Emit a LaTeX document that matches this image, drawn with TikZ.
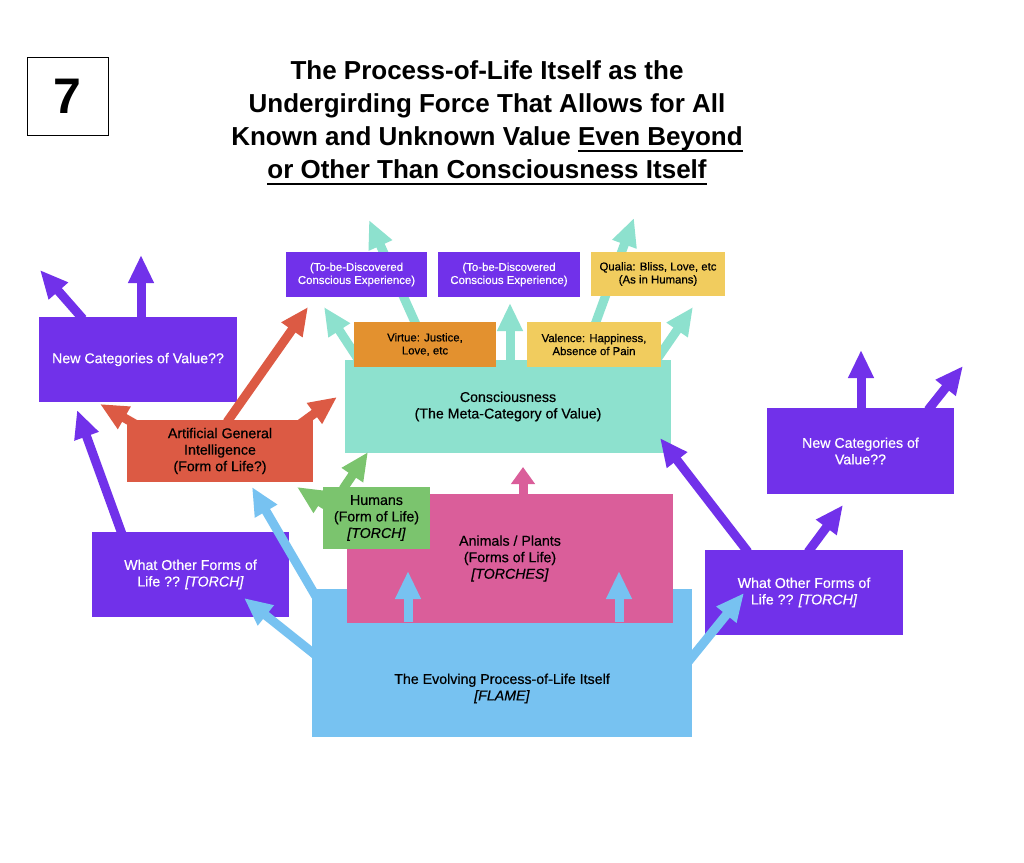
\documentclass[tikz,border=0pt]{standalone}
\usepackage{fontspec}
\setmainfont{Liberation Sans}
\newfontfamily\medf{Liberation Sans}[FakeBold=0.5]
\usetikzlibrary{arrows.meta}
\definecolor{cpurple}{HTML}{7131EA}
\definecolor{cteal}{HTML}{8DE1CE}
\definecolor{corange}{HTML}{E3912F}
\definecolor{cyellow}{HTML}{F1CC5E}
\definecolor{cred}{HTML}{DC5A44}
\definecolor{cgreen}{HTML}{7BC46E}
\definecolor{cpink}{HTML}{DA5E9A}
\definecolor{cblue}{HTML}{77C2F1}
\newcommand\bodyf{\medf\fontsize{14.2}{16.5}\selectfont}
\newcommand\smallf{\medf\fontsize{11.4}{13}\selectfont}
\newcommand\thickul[1]{\leavevmode\vtop{\hbox{\smash{#1}}\kern4.5pt\hrule height 1.6pt}}
\tikzset{
  box/.style={rectangle, inner sep=0pt, align=center, font=\bodyf, text=black},
  sbox/.style={box, font=\smallf},
  arr/.style={line width=9pt, -{Triangle[width=24pt,length=28pt]}},
  sarr/.style={line width=9pt, -{Triangle[width=23pt,length=17pt]}},
}
\begin{document}
\begin{tikzpicture}[x=1pt,y=-1pt]
\useasboundingbox[fill=white] (0,0) rectangle (1024,862);

% number and title
\node[draw=black, line width=0.8pt, minimum width=81pt, minimum height=78pt, inner sep=0pt,
      font=\fontsize{50}{50}\selectfont\bfseries] (num) at (67.5,96) {7};
\node[align=center, font=\fontsize{26}{33}\selectfont\bfseries] (title) at (487,123)
  {The Process-of-Life Itself as the\\
   Undergirding Force That Allows for All\\
   Known and Unknown Value \thickul{Even Beyond}\\
   \thickul{or Other Than Consciousness Itself}};

% lower-layer boxes
\node[box, fill=cblue, minimum width=380pt, minimum height=148pt] (evol) at (502,663) {};
\node[box] (evoltext) at (502,688.5) {The Evolving Process-of-Life Itself\\\textit{[FLAME]}};
\node[box, fill=cpink, minimum width=326pt, minimum height=129pt] (animals) at (510,558.5)
  {Animals / Plants\\(Forms of Life)\\\textit{[TORCHES]}};
\node[box, fill=cgreen, minimum width=107pt, minimum height=62pt] (humans) at (376.5,518)
  {Humans\\(Form of Life)\\\textit{[TORCH]}};
\node[box, fill=cteal, minimum width=326pt, minimum height=93pt] (cons) at (508,406.5)
  {Consciousness\\(The Meta-Category of Value)};
\node[box, fill=cred, minimum width=186pt, minimum height=62pt] (agi) at (220,451)
  {Artificial General\\Intelligence\\(Form of Life?)};
\node[box, fill=cpurple, text=white, minimum width=198pt, minimum height=85pt] (newcatL) at (138,359.5)
  {New Categories of Value??};
\node[box, fill=cpurple, text=white, minimum width=197pt, minimum height=85pt] (otherL) at (190.5,574.5)
  {What Other Forms of\\Life ?? \textit{[TORCH]}};
\node[box, fill=cpurple, text=white, minimum width=198pt, minimum height=85pt] (otherR) at (804,592.5)
  {What Other Forms of\\Life ?? \textit{[TORCH]}};
\node[box, fill=cpurple, text=white, minimum width=187pt, minimum height=86pt] (newcatR) at (860.5,451)
  {New Categories of\\Value??};

% arrow end points
\coordinate (t1s) at (360,362); \coordinate (t1e) at (324,307);
\coordinate (t2s) at (432,360); \coordinate (t2e) at (369,220);
\coordinate (t3s) at (510,362); \coordinate (t3e) at (510,303);
\coordinate (t4s) at (582,360); \coordinate (t4e) at (634,218);
\coordinate (t5s) at (655,362); \coordinate (t5e) at (693,307);
\coordinate (r1s) at (135,424); \coordinate (r1e) at (100,404);
\coordinate (r2s) at (227,422); \coordinate (r2e) at (308,307);
\coordinate (r3s) at (300,424); \coordinate (r3e) at (337,397);
\coordinate (p1s) at (141,319); \coordinate (p1e) at (141,255);
\coordinate (p2s) at (83,319);  \coordinate (p2e) at (40,270);
\coordinate (p3s) at (122,534); \coordinate (p3e) at (77,410);
\coordinate (p4s) at (748,552); \coordinate (p4e) at (660,438);
\coordinate (p5s) at (808,552); \coordinate (p5e) at (843,505);
\coordinate (p6s) at (861,410); \coordinate (p6e) at (861,350);
\coordinate (p7s) at (928,410); \coordinate (p7e) at (963,366);
\coordinate (g1s) at (343,489); \coordinate (g1e) at (368,452);
\coordinate (g2s) at (325,505); \coordinate (g2e) at (297,487);
\coordinate (k1s) at (523,496); \coordinate (k1e) at (523,467);
\coordinate (b1s) at (408,622); \coordinate (b1e) at (408,571);
\coordinate (b2s) at (619,622); \coordinate (b2e) at (619,571);
\coordinate (b3s) at (318,600); \coordinate (b3e) at (252,487);
\coordinate (b4s) at (318,657); \coordinate (b4e) at (244,598);
\coordinate (b5s) at (688,662); \coordinate (b5e) at (744,593);

% arrows
\draw[arr, cteal] (t1s) -- (t1e);
\draw[arr, cteal] (t2s) -- (t2e);
\draw[arr, cteal] (t3s) -- (t3e);
\draw[arr, cteal] (t4s) -- (t4e);
\draw[arr, cteal] (t5s) -- (t5e);
\draw[arr, cred] (r1s) -- (r1e);
\draw[arr, cred] (r2s) -- (r2e);
\draw[arr, cred] (r3s) -- (r3e);
\draw[arr, cpurple] (p1s) -- (p1e);
\draw[arr, cpurple] (p2s) -- (p2e);
\draw[arr, cpurple] (p3s) -- (p3e);
\draw[arr, cpurple] (p4s) -- (p4e);
\draw[arr, cpurple] (p5s) -- (p5e);
\draw[arr, cpurple] (p6s) -- (p6e);
\draw[arr, cpurple] (p7s) -- (p7e);
\draw[arr, cgreen] (g1s) -- (g1e);
\draw[arr, cgreen] (g2s) -- (g2e);
\draw[sarr, cpink] (k1s) -- (k1e);
\draw[arr, cblue] (b1s) -- (b1e);
\draw[arr, cblue] (b2s) -- (b2e);
\draw[arr, cblue] (b3s) -- (b3e);
\draw[arr, cblue] (b4s) -- (b4e);
\draw[arr, cblue] (b5s) -- (b5e);

% upper-layer boxes
\node[sbox, fill=cpurple, text=white, minimum width=141pt, minimum height=45pt] (disc1) at (356.5,274.5)
  {(To-be-Discovered\\Conscious Experience)};
\node[sbox, fill=cpurple, text=white, minimum width=142pt, minimum height=45pt] (disc2) at (509,274.5)
  {(To-be-Discovered\\Conscious Experience)};
\node[sbox, fill=cyellow, minimum width=134pt, minimum height=44pt] (qualia) at (658,274)
  {Qualia: Bliss, Love, etc\\(As in Humans)};
\node[sbox, fill=corange, minimum width=142pt, minimum height=45pt] (virtue) at (425,344.5)
  {Virtue: Justice,\\Love, etc};
\node[sbox, fill=cyellow, minimum width=134pt, minimum height=45pt] (valence) at (594,344.5)
  {Valence: Happiness,\\Absence of Pain};
\end{tikzpicture}
\end{document}
